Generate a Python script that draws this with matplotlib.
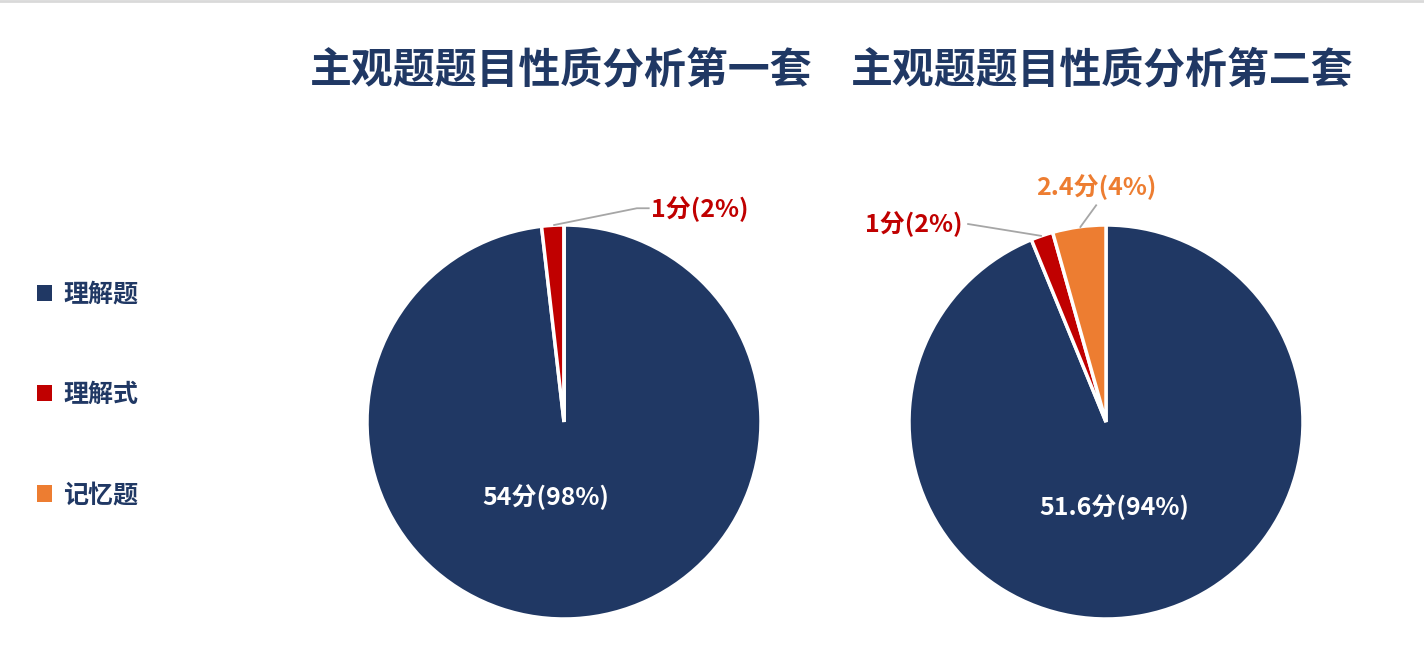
import numpy as np
import matplotlib.pyplot as plt
from matplotlib.patches import Patch

plt.rcParams['font.family'] = ['Noto Sans CJK SC', 'DejaVu Sans']

# data
categories = ['理解题', '理解式', '记忆题']
set1_scores = [54, 1, 0]
set2_scores = [51.6, 1, 2.4]
set1_labels = ['54分(98%)', '1分(2%)', '']
set2_labels = ['51.6分(94%)', '1分(2%)', '2.4分(4%)']
titles = ['主观题题目性质分析第一套', '主观题题目性质分析第二套']

colors = ['#203864', '#C00000', '#ED7D31']
navy = '#203864'

W, H = 1424, 654
fig = plt.figure(figsize=(W / 100, H / 100), dpi=100)

# top hairline
fig.add_artist(plt.Line2D([0, 1], [0.998, 0.998], color='#d9d9d9', lw=2))


def pie_axes(cx, cy, r, a=1.25):
    w = 2 * a * r
    ax = fig.add_axes([(cx - w / 2) / W, (H - cy - w / 2) / H, w / W, w / H])
    ax.set_xlim(-a, a)
    ax.set_ylim(-a, a)
    ax.set_aspect('equal')
    ax.axis('off')
    return ax


def draw_pie(ax, values):
    ax.pie(values, colors=colors, startangle=90, counterclock=False,
           radius=1.0, wedgeprops=dict(edgecolor='white', linewidth=2.5))


lbl_fs = 18

# ---- set 1
ax1 = pie_axes(564, 422, 197)
draw_pie(ax1, set1_scores)
ax1.text(-0.09, -0.38, set1_labels[0], color='white', fontsize=lbl_fs,
         fontweight='bold', ha='center', va='center')
ax1.plot([-0.05, 0.37, 0.43], [1.0, 1.085, 1.085], color='#a6a6a6', lw=1.3,
         clip_on=False)
ax1.text(0.44, 1.08, set1_labels[1], color=colors[1], fontsize=lbl_fs,
         fontweight='bold', ha='left', va='center')

# ---- set 2
ax2 = pie_axes(1106, 422, 197)
draw_pie(ax2, set2_scores)
ax2.text(0.04, -0.43, set2_labels[0], color='white', fontsize=lbl_fs,
         fontweight='bold', ha='center', va='center')
ax2.plot([-0.33, -0.70], [0.945, 1.005], color='#a6a6a6', lw=1.3, clip_on=False)
ax2.text(-0.73, 1.005, set2_labels[1], color=colors[1], fontsize=lbl_fs,
         fontweight='bold', ha='right', va='center')
ax2.plot([-0.13, -0.05], [0.99, 1.10], color='#a6a6a6', lw=1.3, clip_on=False)
ax2.text(-0.05, 1.19, set2_labels[2], color=colors[2], fontsize=lbl_fs,
         fontweight='bold', ha='center', va='center')

# titles
fig.text(561 / W, 1 - 70 / H, titles[0], color=navy, fontsize=30.2,
         fontweight='bold', ha='center', va='center')
fig.text(1102 / W, 1 - 70 / H, titles[1], color=navy, fontsize=30.2,
         fontweight='bold', ha='center', va='center')

# legend
handles = [Patch(facecolor=c, edgecolor='none') for c in colors]
leg = fig.legend(handles, categories, loc='center left',
                 bbox_to_anchor=(0.01, 1 - 395 / H), frameon=False,
                 fontsize=18, handlelength=0.62, handleheight=0.62,
                 handletextpad=0.45, labelspacing=3.05)
for t in leg.get_texts():
    t.set_color(navy)
    t.set_fontweight('bold')

fig.savefig('out.png', dpi=100)
